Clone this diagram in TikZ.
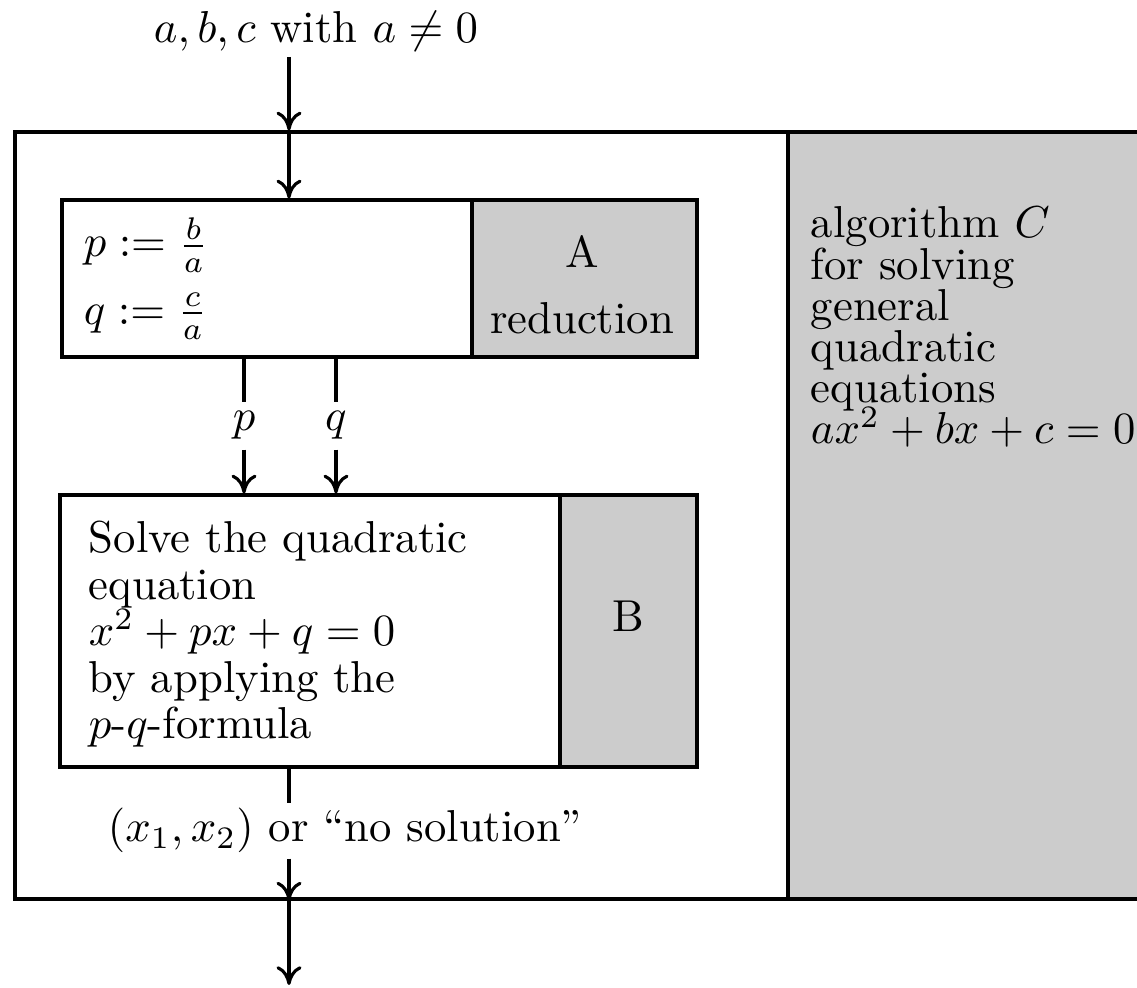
\documentclass[tikz,border=0pt]{standalone}
\usetikzlibrary{arrows.meta,fit}
\definecolor{cellgray}{gray}{0.8}
\newcommand\leftlines[2]{\vtop{\baselineskip=#1\lineskiplimit=-100pt\lineskip=0pt\halign{##\hfil\cr#2\crcr}}}
\newcommand\centerlines[2]{\vtop{\baselineskip=#1\lineskiplimit=-100pt\lineskip=0pt\halign{\hfil##\hfil\cr#2\crcr}}}
\tikzset{
  box/.style={draw, line width=0.7pt, inner sep=0pt},
  cellbox/.style={box, fill=cellgray},
  ln/.style={line width=0.7pt},
  arr/.style={line width=0.7pt, -{To[length=4.2pt,width=5.6pt]}},
  txt/.style={inner sep=0pt, anchor=base west},
  lbl/.style={anchor=base},
}
\begin{document}
\begin{tikzpicture}[x=0.2237pt, y=-0.2237pt]
\useasboundingbox (0,0) rectangle (1137,988);
\clip (0,0) rectangle (1137,988);
% outer algorithm C
\coordinate (o1) at (15,132);
\coordinate (o2) at (1150,899);
\coordinate (c1) at (788,132);
\node[box, fit=(o1)(o2)] (outer) {};
\node[cellbox, fit=(c1)(o2)] (C) {};
\node[txt] (Ctext) at (810,238) {\leftlines{9.2pt}{algorithm $C$\cr for solving\cr general\cr quadratic\cr equations\cr $ax^2+bx+c=0$}};
% box A
\coordinate (a1) at (62,200);
\coordinate (a2) at (697,357);
\coordinate (ac) at (472,200);
\node[box, fit=(a1)(a2)] (A) {};
\node[cellbox, fit=(ac)(a2)] (Acell) {};
\node[txt] (Atext) at (83,257) {\leftlines{15pt}{$p := \frac{b}{a}$\cr $q := \frac{c}{a}$}};
\node[lbl, inner sep=0pt] (Alabel) at (582,268) {\centerlines{14.6pt}{A\cr reduction}};
% box B
\coordinate (b1) at (60,495);
\coordinate (b2) at (697,767);
\coordinate (bc) at (560,495);
\node[box, fit=(b1)(b2)] (B) {};
\node[cellbox, fit=(bc)(b2)] (Bcell) {};
\node[txt] (Btext) at (88,553) {\leftlines{10.4pt}{Solve the quadratic\cr equation\cr $x^2+px+q=0$\cr by applying the\cr $p$-$q$-formula}};
\node[lbl, inner sep=0pt] (Blabel) at (628,632) {B};
% input
\node[lbl, inner sep=0pt] (in) at (316,43) {$a, b, c$ with $a \neq 0$};
\coordinate (s0) at (289,57);
\draw[arr] (s0) -- (s0 |- outer.north);
\draw[arr] (s0 |- outer.north) -- (s0 |- A.north);
% p and q
\node[lbl, inner sep=2pt] (plab) at (244,431) {$p$};
\node[lbl, inner sep=2pt] (qlab) at (336,431) {$q$};
\draw[ln] (plab |- A.south) -- (plab.north);
\draw[arr] (plab.south) -- (plab |- B.north);
\draw[ln] (qlab |- A.south) -- (qlab.north);
\draw[arr] (qlab.south) -- (qlab |- B.north);
% output
\node[lbl, inner sep=1pt] (out) at (345,842) {$(x_1,x_2)$ or ``no solution''};
\coordinate (end) at (289,985);
\draw[ln] (s0 |- B.south) -- (s0 |- out.north);
\draw[arr] (s0 |- out.south) -- (s0 |- outer.south);
\draw[arr] (s0 |- outer.south) -- (end);
\end{tikzpicture}
\end{document}
